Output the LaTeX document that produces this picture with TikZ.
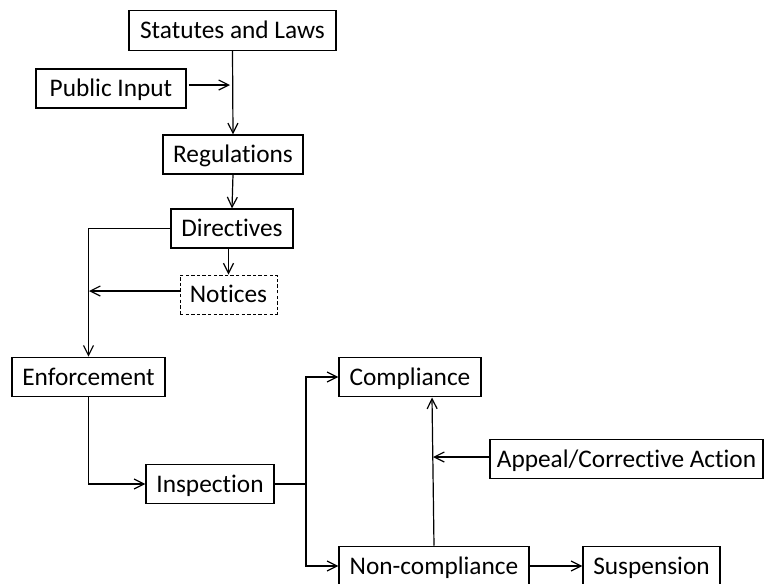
\documentclass[tikz,border=0pt]{standalone}
\usepackage{fontspec}
\setmainfont{Carlito}[Ligatures={NoCommon,NoRare,NoDiscretionary}]
\usetikzlibrary{arrows.meta}
\begin{document}
\begin{tikzpicture}[x=0.75pt,y=-0.75pt,
  box/.style={draw, line width=0.9pt, inner sep=0pt, minimum height=29.5pt, text height=12.2pt, text depth=0pt, font=\fontsize{19}{22}\selectfont},
  dashbox/.style={line width=0.7pt, dash pattern=on 2.6pt off 1.6pt},
  conn/.style={line width=0.9pt},
  arr/.style={conn, -{Straight Barb[length=7.5pt,width=7.5pt,line width=0.9pt]}}]
\clip (0,0) rectangle (765,583);
\fill[white] (0,0) rectangle (765,583);
\node[box, minimum width=155.25pt] (statutes) at (232.5,30.5) {Statutes and Laws};
\node[box, minimum width=112.5pt, minimum height=29.25pt] (public) at (111,88.5) {Public Input\hspace{6pt}};
\node[box, minimum width=105pt, minimum height=29.25pt] (regs) at (233,154.5) {Regulations};
\node[box, minimum width=91.5pt, minimum height=29.25pt] (dirs) at (232,228.5) {Directives};
\node[box, dashbox, minimum width=72.75pt, minimum height=29.25pt] (notices) at (228.5,294.5) {Notices};
\node[box, minimum width=114.75pt] (enf) at (88.5,377) {Enforcement};
\node[box, minimum width=96pt] (insp) at (210,484) {Inspection};
\node[box, minimum width=106.5pt] (comp) at (410,377) {Compliance};
\node[box, minimum width=204.75pt] (appeal) at (626.5,459) {Appeal/Corrective Action};
\node[box, minimum width=142.5pt] (noncomp) at (434,566) {Non-compliance};
\node[box, minimum width=102.75pt] (susp) at (651.5,566) {Suspension};
\coordinate (pubend) at (230,85);
\coordinate (noticeend) at (89,291);
\coordinate (jn) at (306,484);
\coordinate (append) at (433,457);
\draw[arr] (public.east |- pubend) ++(2,0) -- (pubend);
\draw[arr] (statutes.south) -- (regs.north);
\draw[arr] (regs.south) -- (dirs.north);
\draw[arr] (dirs.west) -| (enf.north);
\draw[arr] (dirs.south -| notices.north) -- (notices.north);
\draw[arr] (notices.west |- noticeend) -- (noticeend);
\draw[arr] (enf.south) |- (insp.west);
\draw[conn] (insp.east) -- (jn);
\draw[arr] (jn) |- (comp.west);
\draw[arr] (jn) |- (noncomp.west);
\draw[arr] (noncomp.north) -- (432,397.5);
\draw[arr] (appeal.west |- append) -- (append);
\draw[arr] (noncomp.east) -- (susp.west);
\end{tikzpicture}
\end{document}
